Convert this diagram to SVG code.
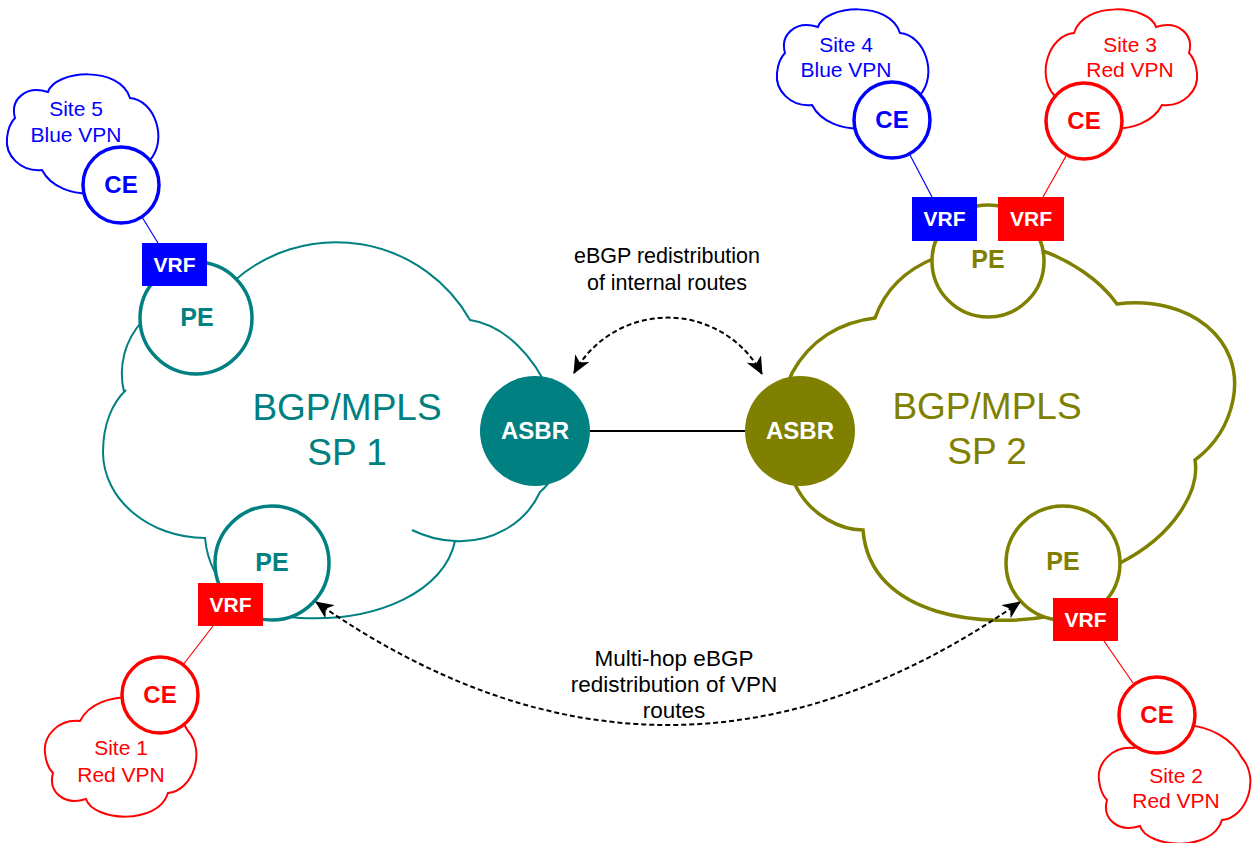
<svg xmlns="http://www.w3.org/2000/svg" width="1253" height="843" viewBox="0 0 1253 843">
  <style>
    text { font-family: "Liberation Sans", Arial, sans-serif; text-anchor: middle; }
    .lbl { font-size: 21px; }
    .note { font-size: 21.5px; }
    .note2 { font-size: 22.5px; }
    .big { font-size: 37px; }
    .ce { font-size: 24px; font-weight: bold; }
    .pe { font-size: 25px; font-weight: bold; }
    .vrf { font-size: 21px; font-weight: bold; fill: #fff; }
    .asbr { font-size: 24px; font-weight: bold; fill: #fff; }
    .blue { fill: #0000ff; }
    .red { fill: #ff0000; }
    .teal { fill: #008080; }
    .olive { fill: #808000; }
    .cloudB { fill: #fff; stroke: #0000ff; stroke-width: 2; }
    .cloudR { fill: #fff; stroke: #ff0000; stroke-width: 2; }
    .ceB { fill: #fff; stroke: #0000ff; stroke-width: 3.5; }
    .ceR { fill: #fff; stroke: #ff0000; stroke-width: 3.5; }
    .peT { fill: #fff; stroke: #008080; stroke-width: 3.5; }
    .peO { fill: #fff; stroke: #808000; stroke-width: 3.5; }
    .link { stroke-width: 1.2; fill: none; }
    .dash { fill: none; stroke: #000; stroke-width: 2; stroke-dasharray: 5 3; marker-start: url(#arrow); marker-end: url(#arrow); }
  </style>
  <defs>
    <path id="siteCloud" d="M41,20 C48,-2 113,-7 123,26 C148,28 161,68 143,88 C123,128 53,133 35,98 C13,100 -2,83 0,66 C1,56 4,50 8,46 C3,28 18,13 41,20 Z"/>
    <marker id="arrow" viewBox="0 0 18 16" refX="17" refY="8" markerWidth="18" markerHeight="16" markerUnits="userSpaceOnUse" orient="auto-start-reverse">
      <path d="M0,0 L18,8 L0,16 L5,8 Z" fill="#000"/>
    </marker>
  </defs>

  <!-- provider clouds -->
  <g id="sp1">
    <path d="M124,392 C112,340 150,290 234,281 A154,154 0 0 1 470,320 C540,330 590,450 540,492 C525,525 490,543 455,541 C445,590 380,622 300,618 C250,615 210,590 205,538 C150,538 103,500 103,452 C103,425 112,403 126,390 Z" fill="#fff" stroke="#008080" stroke-width="2"/>
    <path d="M455,541 Q432,540 412,530" fill="none" stroke="#008080" stroke-width="2"/>
    <text class="big teal" x="347" y="420">BGP/MPLS</text>
    <text class="big teal" x="347" y="465">SP 1</text>
  </g>
  <g id="sp2">
    <path d="M792,373 C810,340 840,322 875,318 C885,290 905,270 935,258 L1040,250 C1070,260 1100,280 1117,304 C1190,295 1245,340 1233,400 C1228,425 1215,445 1195,460 C1200,490 1175,535 1120,563 L1050,616 C990,628 870,620 863,530 C840,530 812,515 798,490 C780,460 780,400 792,373 Z" fill="#fff" stroke="#808000" stroke-width="3.5"/>
    <text class="big olive" x="987" y="419">BGP/MPLS</text>
    <text class="big olive" x="987" y="464">SP 2</text>
  </g>

  <!-- customer sites -->
  <g id="site5">
    <use href="#siteCloud" class="cloudB" transform="translate(7,72)"/>
    <text class="lbl blue" x="76" y="116">Site 5</text>
    <text class="lbl blue" x="76" y="142">Blue VPN</text>
  </g>
  <g id="site4">
    <use href="#siteCloud" class="cloudB" transform="translate(777,7)"/>
    <text class="lbl blue" x="846" y="52">Site 4</text>
    <text class="lbl blue" x="846" y="77">Blue VPN</text>
  </g>
  <g id="site3">
    <use href="#siteCloud" class="cloudR" transform="translate(1197,7) scale(-1,1)"/>
    <text class="lbl red" x="1130" y="52">Site 3</text>
    <text class="lbl red" x="1130" y="77">Red VPN</text>
  </g>
  <g id="site1">
    <use href="#siteCloud" class="cloudR" transform="translate(45,819) scale(1,-1)"/>
    <text class="lbl red" x="121" y="755">Site 1</text>
    <text class="lbl red" x="121" y="782">Red VPN</text>
  </g>
  <g id="site2">
    <use href="#siteCloud" class="cloudR" transform="translate(1099,846) scale(1,-1)"/>
    <text class="lbl red" x="1176" y="783">Site 2</text>
    <text class="lbl red" x="1176" y="808">Red VPN</text>
  </g>

  <!-- customer edge routers -->
  <g id="ce5"><circle class="ceB" cx="121" cy="185" r="38"/><text class="ce blue" x="121" y="193">CE</text></g>
  <g id="ce4"><circle class="ceB" cx="892" cy="120" r="38"/><text class="ce blue" x="892" y="128">CE</text></g>
  <g id="ce3"><circle class="ceR" cx="1084" cy="121" r="38"/><text class="ce red" x="1084" y="129">CE</text></g>
  <g id="ce1"><circle class="ceR" cx="160" cy="695" r="38"/><text class="ce red" x="160" y="703">CE</text></g>
  <g id="ce2"><circle class="ceR" cx="1157" cy="715" r="38"/><text class="ce red" x="1157" y="723">CE</text></g>

  <!-- provider edge routers -->
  <g id="pe1a"><circle class="peT" cx="196" cy="318" r="56"/><text class="pe teal" x="197" y="326">PE</text></g>
  <g id="pe1b"><circle class="peT" cx="272" cy="563" r="57"/><text class="pe teal" x="272" y="571">PE</text></g>
  <g id="pe2a"><circle class="peO" cx="988" cy="261" r="56"/><text class="pe olive" x="988" y="268">PE</text></g>
  <g id="pe2b"><circle class="peO" cx="1063" cy="563" r="57"/><text class="pe olive" x="1063" y="570">PE</text></g>

  <!-- VRF tables -->
  <g id="vrf5"><rect x="142" y="243" width="65" height="43" fill="#0000ff"/><text class="vrf" x="174.5" y="272">VRF</text></g>
  <g id="vrf1"><rect x="198" y="583" width="65" height="43" fill="#ff0000"/><text class="vrf" x="230.5" y="612">VRF</text></g>
  <g id="vrf4"><rect x="912" y="197" width="65" height="44" fill="#0000ff"/><text class="vrf" x="944.5" y="226">VRF</text></g>
  <g id="vrf3"><rect x="998" y="197" width="66" height="44" fill="#ff0000"/><text class="vrf" x="1031" y="226">VRF</text></g>
  <g id="vrf2"><rect x="1053" y="598" width="65" height="43" fill="#ff0000"/><text class="vrf" x="1085.5" y="627">VRF</text></g>

  <!-- autonomous system border routers -->
  <g id="asbr1"><circle cx="535" cy="431" r="55" fill="#008080"/><text class="asbr" x="535" y="439">ASBR</text></g>
  <g id="asbr2"><circle cx="800" cy="431" r="55" fill="#808000"/><text class="asbr" x="800" y="439">ASBR</text></g>

  <!-- links and route exchange -->
  <g id="connectors">
    <line x1="590" y1="431" x2="745" y2="431" stroke="#000" stroke-width="2"/>
    <line class="link" x1="142" y1="217" x2="158" y2="243" stroke="#0000ff"/>
    <line class="link" x1="910" y1="155" x2="932" y2="197" stroke="#0000ff"/>
    <line class="link" x1="1066" y1="156" x2="1043" y2="197" stroke="#ff0000"/>
    <line class="link" x1="213" y1="626" x2="183" y2="665" stroke="#ff0000"/>
    <line class="link" x1="1104" y1="641" x2="1133" y2="683" stroke="#ff0000"/>
    <path class="dash" d="M574,373 A107,107 0 0 1 762,374"/>
    <path class="dash" d="M316,602 Q668,848 1020,602"/>
  </g>
  <text class="note" x="667" y="263">eBGP redistribution</text>
  <text class="note" x="667" y="290">of internal routes</text>
  <text class="note2" x="674" y="666">Multi-hop eBGP</text>
  <text class="note2" x="674" y="692">redistribution of VPN</text>
  <text class="note2" x="674" y="718">routes</text>
</svg>
